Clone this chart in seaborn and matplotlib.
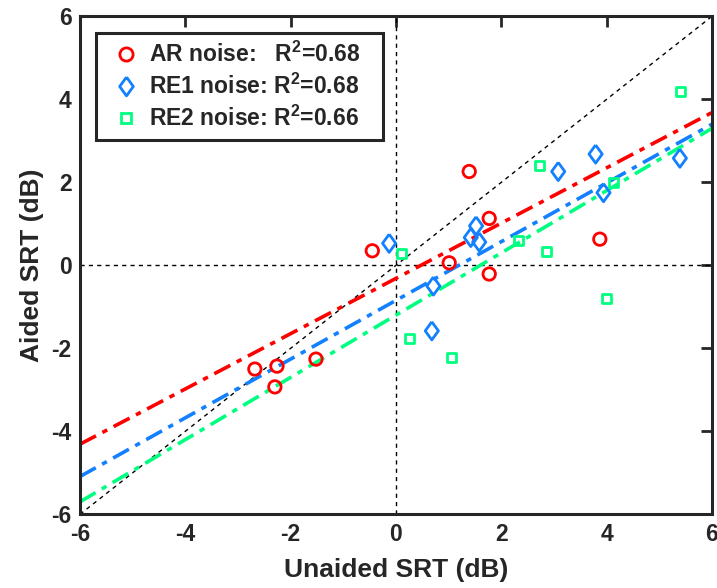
import numpy as np
import matplotlib
matplotlib.use("Agg")
import matplotlib.pyplot as plt
import seaborn as sns
from matplotlib.lines import Line2D

# ---- data ----
ar_x = [-2.68, -2.26, -2.30, -1.52, -0.45, 1.01, 1.39, 1.77, 1.77, 3.87]
ar_y = [-2.50, -2.43, -2.93, -2.26, 0.35, 0.06, 2.26, 1.13, -0.21, 0.63]

re1_x = [-0.13, 0.71, 0.68, 1.42, 1.52, 1.58, 3.08, 3.79, 3.94, 5.39]
re1_y = [0.53, -0.50, -1.58, 0.67, 0.95, 0.56, 2.26, 2.68, 1.75, 2.58]

re2_x = [0.11, 0.25, 1.06, 2.33, 2.72, 2.85, 3.99, 4.13, 5.40]
re2_y = [0.29, -1.77, -2.23, 0.59, 2.40, 0.34, -0.79, 1.99, 4.18]

# fitted regression lines (slope, intercept) as drawn
fit_slopes = [0.666, 0.7075, 0.75]
fit_intercepts = [-0.315, -0.845, -1.20]

series_labels = [r"AR noise:   R$^{2}$=0.68   ",
                 r"RE1 noise: R$^{2}$=0.68   ",
                 r"RE2 noise: R$^{2}$=0.66   "]
tick_vals = [-6, -4, -2, 0, 2, 4, 6]

# ---- style ----
sns.set_theme(style="white")
plt.rcParams["font.family"] = ["Liberation Sans", "DejaVu Sans"]
plt.rcParams["font.weight"] = "bold"
plt.rcParams["axes.labelweight"] = "bold"
plt.rcParams["mathtext.fontset"] = "custom"
plt.rcParams["mathtext.rm"] = "Liberation Sans:bold"
plt.rcParams["mathtext.bf"] = "Liberation Sans:bold"
plt.rcParams["mathtext.default"] = "bf"

colors = ["#FF0000", "#1380FF", "#00FF80"]
diamond = [(0, 1), (0.73, 0), (0, -1), (-0.73, 0), (0, 1)]
markers = ["o", diamond, "s"]
sizes = [80, 170, 42]

fig = plt.figure(figsize=(7.17, 5.88), dpi=100)
ax = fig.add_axes([80 / 717, 1 - 514.3 / 588, 632 / 717, 498 / 588])

ext = np.array([-6.0, 6.0])
# reference lines
ax.plot(ext, ext, color="black", lw=1.0, ls=(0, (3, 3)), zorder=1)
ax.axhline(0, color="black", lw=1.0, ls=(0, (3, 3)), zorder=1)
ax.axvline(0, color="black", lw=1.0, ls=(0, (3, 3)), zorder=1)

xs = [ar_x, re1_x, re2_x]
ys = [ar_y, re1_y, re2_y]
for i in range(3):
    sns.scatterplot(x=xs[i], y=ys[i], ax=ax, marker=markers[i], s=sizes[i],
                    facecolor="none", edgecolor=colors[i], linewidth=2.0,
                    zorder=3, legend=False)
    sns.lineplot(x=ext, y=fit_slopes[i] * ext + fit_intercepts[i], ax=ax,
                 color=colors[i], lw=2.6, zorder=2, legend=False)
    ax.lines[-1].set_linestyle((0, (5, 2, 1.5, 2)))

ax.set_xlim(-6, 6)
ax.set_ylim(-6, 6)
ax.set_xticks(tick_vals)
ax.set_yticks(tick_vals)
ax.set_xticklabels([str(v) for v in tick_vals], fontweight="bold")
ax.set_yticklabels([str(v) for v in tick_vals], fontweight="bold")
ax.tick_params(direction="in", top=True, right=True, length=8, width=2,
               labelsize=16.5, colors="#262626", pad=6)
for sp in ax.spines.values():
    sp.set_linewidth(2.2)
    sp.set_color("#262626")

ax.set_xlabel("Unaided SRT (dB)", fontsize=19, fontweight="bold",
              color="#262626", labelpad=9)
ax.set_ylabel("Aided SRT (dB)", fontsize=19, fontweight="bold",
              color="#262626", labelpad=5)

handles = [Line2D([], [], ls="none", marker=markers[i], markerfacecolor="none",
                  markeredgecolor=colors[i], markeredgewidth=2,
                  markersize=[9.5, 13.5, 7][i]) for i in range(3)]
leg = ax.legend(handles, series_labels, loc="upper left",
                bbox_to_anchor=(0.025, 0.967), borderaxespad=0,
                fancybox=False, framealpha=1, edgecolor="#262626",
                prop={"size": 16.5, "weight": "bold"}, handletextpad=0.13,
                labelspacing=0.3, borderpad=0.4, handlelength=1.8)
leg.get_frame().set_linewidth(2.2)

fig.savefig("out.png", dpi=100)
